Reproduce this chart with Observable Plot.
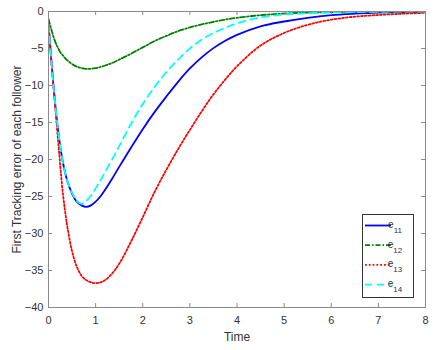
<!DOCTYPE html>
<html>
<head>
<meta charset="utf-8">
<script src="https://cdn.jsdelivr.net/npm/d3@7"></script>
<script src="https://cdn.jsdelivr.net/npm/@observablehq/plot@0.6"></script>
<style>
  html, body { margin: 0; padding: 0; background: #fff; }
</style>
</head>
<body>
<div id="chart"></div>
<script>
// ---- data ----
const time = [0, 0.05, 0.1, 0.15, 0.2, 0.25, 0.3, 0.35, 0.4, 0.5, 0.6, 0.7, 0.8, 0.9, 1.0, 1.1, 1.2, 1.35, 1.5, 1.75, 2.0, 2.25, 2.5, 2.75, 3.0, 3.25, 3.5, 3.75, 4.0, 4.5, 5.0, 5.5, 6.0, 6.5, 7.0, 7.5, 8.0];
const e11 = [-1.8, -5.8, -9.6, -13.0, -15.9, -18.3, -20.2, -21.7, -22.9, -24.6, -25.7, -26.2, -26.4, -26.2, -25.7, -25.0, -24.1, -22.6, -21.0, -18.4, -15.9, -13.6, -11.5, -9.5, -7.7, -6.2, -4.95, -3.95, -3.15, -2.0, -1.35, -0.85, -0.5, -0.3, -0.16, -0.09, -0.05];
const e12 = [-1.0, -2.2, -3.3, -4.2, -4.9, -5.5, -5.9, -6.3, -6.6, -7.1, -7.45, -7.65, -7.75, -7.75, -7.65, -7.5, -7.3, -6.95, -6.5, -5.7, -4.85, -4.0, -3.3, -2.65, -2.15, -1.75, -1.4, -1.1, -0.85, -0.5, -0.28, -0.16, -0.09, -0.05, -0.03, -0.02, -0.01];
const e13 = [-1.5, -5.8, -9.8, -13.5, -17.2, -20.9, -24.3, -26.9, -29.1, -32.4, -34.5, -35.7, -36.3, -36.6, -36.7, -36.6, -36.3, -35.4, -34.1, -31.1, -27.8, -24.4, -21.4, -18.6, -16.0, -13.5, -11.2, -9.2, -7.4, -4.6, -2.9, -1.8, -1.1, -0.7, -0.47, -0.3, -0.18];
const e14 = [-1.8, -5.8, -9.6, -13.0, -15.9, -18.3, -20.2, -21.7, -22.9, -24.5, -25.6, -26.0, -25.6, -24.9, -23.9, -22.9, -21.7, -20.0, -18.2, -15.2, -12.5, -10.2, -8.2, -6.5, -5.0, -3.8, -2.9, -2.2, -1.6, -0.8, -0.42, -0.25, -0.14, -0.08, -0.04, -0.02, -0.01];

const seriesNames = ["11", "12", "13", "14"];
const seriesValues = [e11, e12, e13, e14];
const xTicks = [0, 1, 2, 3, 4, 5, 6, 7, 8];
const yTicks = [-40, -35, -30, -25, -20, -15, -10, -5, 0];
const xLabel = "Time";
const yLabel = "First Tracking error of each follower";

// ---- styles ----
const styles = [
  {stroke: "#0000ff", dash: null},
  {stroke: "#008000", dash: "5,2,1.5,2"},
  {stroke: "#ff0000", dash: "1.8,2"},
  {stroke: "#00ffff", dash: "7,5"}
];
const axisColor = "#8a8a8a";
const textColor = "#333333";

const rows = seriesValues.map((vals) => time.map((t, i) => ({t, v: vals[i]})));

const tickLenY = 4 * 40 / 296;  // ~4px inward ticks
const tickLenX = 4 * 8 / 377;

const svg = Plot.plot({
  width: 436,
  height: 350,
  marginLeft: 48,
  marginRight: 11,
  marginTop: 11,
  marginBottom: 43,
  style: {fontFamily: "'Liberation Sans', Arial, sans-serif", fontSize: "11px", color: textColor, background: "#fff"},
  x: {domain: [0, 8]},
  y: {domain: [-40, 0]},
  marks: [
    ...rows.map((data, k) => Plot.line(data, {
      x: "t", y: "v", stroke: styles[k].stroke, strokeWidth: 1.8,
      strokeDasharray: styles[k].dash, curve: "catmull-rom", clip: true
    })),
    Plot.frame({stroke: axisColor, strokeWidth: 1}),
    Plot.ruleX(xTicks, {y1: -40, y2: -40 + tickLenY, stroke: axisColor}),
    Plot.ruleX(xTicks, {y1: 0, y2: -tickLenY, stroke: axisColor}),
    Plot.ruleY(yTicks, {x1: 0, x2: tickLenX, stroke: axisColor}),
    Plot.ruleY(yTicks, {x1: 8, x2: 8 - tickLenX, stroke: axisColor}),
    Plot.axisX({ticks: xTicks, tickSize: 0, tickPadding: 9, label: null, fontSize: 11, fill: textColor}),
    Plot.axisY({ticks: yTicks, tickSize: 0, tickPadding: 5, label: null, fontSize: 11, fill: textColor}),
    Plot.text([xLabel], {frameAnchor: "bottom", dy: 33, fontSize: 12, fill: textColor}),
    Plot.text([yLabel], {frameAnchor: "left", dx: -31, rotate: -90, textAnchor: "middle", fontSize: 12, fill: textColor})
  ]
});

// ---- legend ----
const lg = d3.select(svg).append("g").attr("transform", "translate(362,214)");
lg.append("rect").attr("x", 0.5).attr("y", 0.5).attr("width", 51).attr("height", 83)
  .attr("fill", "#fff").attr("stroke", "#333").attr("stroke-width", 1);
seriesNames.forEach((name, k) => {
  const cy = 11.5 + k * 19.7;
  lg.append("line").attr("x1", 3).attr("x2", 29).attr("y1", cy).attr("y2", cy)
    .attr("stroke", styles[k].stroke).attr("stroke-width", 1.8)
    .attr("stroke-dasharray", styles[k].dash);
  const tx = lg.append("text").attr("x", 33).attr("y", cy + 2.5)
    .attr("font-size", 10).attr("fill", textColor)
    .attr("font-family", "'Liberation Sans', Arial, sans-serif");
  tx.append("tspan").text("e");
  tx.append("tspan").attr("dy", 5).attr("font-size", 8).text(name);
});

document.getElementById("chart").appendChild(svg);
</script>
</body>
</html>
